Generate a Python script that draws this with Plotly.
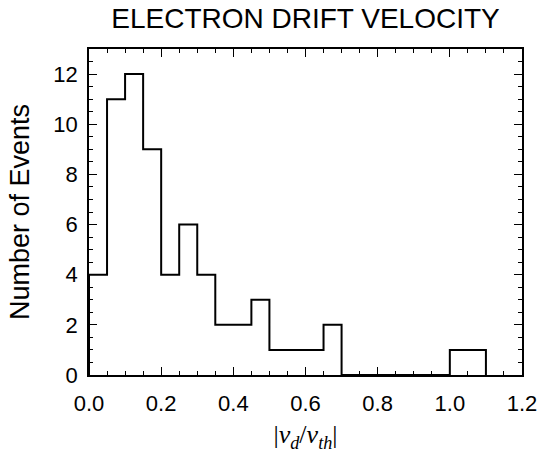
import plotly.graph_objects as go

# Histogram bins (left edges) and counts
bin_width = 0.05
bin_left = [round(i * bin_width, 2) for i in range(22)]
counts = [4, 11, 12, 9, 4, 6, 4, 2, 2, 3, 1, 1, 1, 2, 0, 0, 0, 0, 0, 0, 1, 1]

x_ticks = [0.0, 0.2, 0.4, 0.6, 0.8, 1.0, 1.2]
x_tick_text = ["0.0", "0.2", "0.4", "0.6", "0.8", "1.0", "1.2"]
y_ticks = [0, 2, 4, 6, 8, 10, 12]

xs = [0.0] + bin_left + [round(bin_left[-1] + bin_width, 2)]
ys = [0] + counts + [0]

fig = go.Figure()
fig.add_trace(go.Scatter(
    x=xs, y=ys, mode="lines", line=dict(shape="hv", color="black", width=2),
    showlegend=False, hoverinfo="skip",
))

tick_font = dict(family="Liberation Sans, Arial, sans-serif", size=22, color="black")

fig.update_layout(
    width=542, height=454,
    margin=dict(l=89, r=20, t=49, b=79, autoexpand=False),
    paper_bgcolor="white", plot_bgcolor="white",
    title=dict(text="ELECTRON DRIFT VELOCITY", x=0.5, xref="paper", xanchor="center",
               y=1, yref="container", yanchor="top", pad=dict(t=8),
               font=dict(family="Liberation Sans, Arial, sans-serif", size=28, color="black")),
    xaxis=dict(
        range=[0, 1.2], tickvals=x_ticks, ticktext=x_tick_text,
        ticks="inside", ticklen=8, tickwidth=1.2, tickcolor="black",
        minor=dict(dtick=0.05, ticks="inside", ticklen=4, tickwidth=1, tickcolor="black"),
        showline=True, linecolor="black", linewidth=1.5, mirror="allticks",
        showgrid=False, zeroline=False, tickfont=tick_font, ticklabelstandoff=8,
        automargin=False,
        title=dict(text="|<i>v</i><sub><i>d</i></sub>/<i>v</i><sub><i>th</i></sub>|",
                   font=dict(family="Liberation Serif, Times New Roman, serif", size=26, color="black"),
                   standoff=10),
    ),
    yaxis=dict(
        range=[0, 13], tickvals=y_ticks,
        ticks="inside", ticklen=8, tickwidth=1.2, tickcolor="black",
        minor=dict(dtick=0.5, ticks="inside", ticklen=4, tickwidth=1, tickcolor="black"),
        showline=True, linecolor="black", linewidth=1.5, mirror="allticks",
        showgrid=False, zeroline=False, tickfont=tick_font, ticklabelstandoff=5,
        automargin=False,
        title=dict(text="Number of Events",
                   font=dict(family="Liberation Sans, Arial, sans-serif", size=27, color="black"),
                   standoff=16),
    ),
)

fig.write_html("out.html", config={"displayModeBar": False},
               post_script="document.body.style.margin='0';")
